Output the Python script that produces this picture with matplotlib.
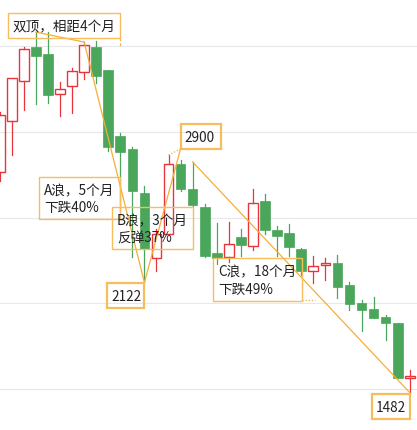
import numpy as np
import matplotlib
matplotlib.use("Agg")
import matplotlib.pyplot as plt
from matplotlib.patches import Rectangle

plt.rcParams['font.family'] = ['Noto Sans CJK SC', 'DejaVu Sans']

# monthly candles, oldest first
opens  = [2765, 3059, 3292, 3491, 3451, 3216, 3265, 3344, 3494, 3355,
          2974, 2898, 2642, 2262, 2404, 2809, 2666, 2559, 2294, 2269,
          2388, 2336, 2598, 2427, 2410, 2317, 2191, 2222, 2235, 2108,
          2003, 1968, 1922, 1887, 1567]
highs  = [3113, 3311, 3490, 3578, 3576, 3286, 3371, 3520, 3526, 3355,
          2990, 2908, 2685, 2433, 2863, 2834, 2823, 2579, 2466, 2472,
          2433, 2666, 2637, 2449, 2461, 2321, 2278, 2265, 2282, 2127,
          2020, 2036, 1933, 1887, 1613]
lows   = [2712, 2866, 3125, 3158, 3164, 3088, 3106, 3305, 3282, 2885,
          2538, 2270, 2122, 2189, 2398, 2654, 2567, 2270, 2230, 2240,
          2274, 2311, 2404, 2278, 2274, 2166, 2119, 2138, 2030, 1960,
          1840, 1917, 1790, 1569, 1482]
closes = [3096, 3309, 3478, 3441, 3214, 3245, 3354, 3503, 3324, 2908,
          2883, 2656, 2317, 2404, 2809, 2666, 2573, 2278, 2263, 2344,
          2340, 2583, 2429, 2394, 2327, 2191, 2216, 2235, 2098, 1999,
          1964, 1917, 1888, 1569, 1580]

grid_levels = [1500, 2000, 2500, 3000, 3500]

# wave points (candle index)
top_1, top_2 = 3, 7
a_end = 12
b_end = (15, 2900)
c_start, c_end = 16, 34

double_top_text = "双顶，相距4个月"
wave_texts = ["A浪，5个月\n下跌40%", "B浪，3个月\n反弹37%", "C浪，18个月\n下跌49%"]
price_texts = ["2122", "2900", "1482"]

W, H = 417, 431
RED = '#e8343c'
GREEN = '#4aa65a'
ORANGE = '#f5ae3a'
BOX = '#f7bd5c'
TXT = '#222222'

fig = plt.figure(figsize=(W / 100, H / 100), dpi=100)
ax = fig.add_axes([0, 0, 1, 1])
ax.set_xlim(0.025, 34.6)
ax.set_ylim(1264.5, 3770.4)
ax.axis('off')


def to_data(px, py):
    # pixel (top-left origin) -> data coords
    return ax.transData.inverted().transform((px, H - py))


def to_pix(x, y):
    dx, dy = ax.transData.transform((x, y))
    return dx, H - dy


def draw_box(px, py, w, h, color=BOX, lw=1.0):
    x0, y1 = to_data(px, py)
    x1, y0 = to_data(px + w, py + h)
    ax.add_patch(Rectangle((x0, y0), x1 - x0, y1 - y0, fill=False,
                           ec=color, lw=lw, zorder=4))


def draw_text(px, py, s):
    x, y = to_data(px, py)
    ax.text(x, y, s, ha='left', va='center', fontsize=9.8, color=TXT,
            linespacing=1.3, zorder=5)


# grid
for g in grid_levels:
    ax.axhline(g, color='#e8e8e8', lw=0.8, zorder=0)

# candles
bw = 0.8
for i in range(len(opens)):
    o, h, l, c = opens[i], highs[i], lows[i], closes[i]
    lo_b, hi_b = min(o, c), max(o, c)
    if c >= o:
        ax.plot([i, i], [hi_b, h], color=RED, lw=0.9, zorder=2)
        ax.plot([i, i], [l, lo_b], color=RED, lw=0.9, zorder=2)
        ax.add_patch(Rectangle((i - bw / 2, lo_b), bw, hi_b - lo_b,
                               fill=False, ec=RED, lw=1.0, zorder=2))
    else:
        ax.plot([i, i], [l, h], color=GREEN, lw=0.9, zorder=2)
        ax.add_patch(Rectangle((i - bw / 2, lo_b), bw, hi_b - lo_b,
                               fc=GREEN, ec=GREEN, lw=0.5, zorder=2))

# wave lines
ax.plot([top_1, top_2], [highs[top_1], highs[top_2]], color=ORANGE, lw=0.9, zorder=3)
ax.plot([top_2, a_end], [highs[top_2], lows[a_end]], color=ORANGE, lw=0.9, zorder=3)
ax.plot([a_end, b_end[0]], [lows[a_end], b_end[1]], color=ORANGE, lw=0.9, zorder=3)
ax.plot([b_end[0], 14], [b_end[1], highs[14]], color=ORANGE, lw=0.9, ls=(0, (1, 1.5)), zorder=3)
ax.plot([c_start, c_end], [highs[c_start], lows[c_end]], color=ORANGE, lw=0.9, zorder=3)

# text labels
draw_box(8, 14, 112, 25)
draw_text(13, 27, double_top_text)
x0, y0 = to_data(120, 39)
x1, y1 = to_data(120, 47)
ax.plot([x0, x1], [y0, y1], color=ORANGE, lw=0.9, ls=(0, (2, 2)), zorder=3)

label_boxes = [(39, 178, 81, 42), (112, 208, 81, 42), (213, 259, 89, 43)]
for (bx, by, bwid, bh), s in zip(label_boxes, wave_texts):
    draw_box(bx, by, bwid, bh)
    draw_text(bx + 5, by + bh / 2 + 0.5, s)

x0, y0 = to_data(302, 301)
x1, y1 = to_data(315, 301)
ax.plot([x0, x1], [y0, y1], color=ORANGE, lw=0.9, ls=(0, (1, 1.5)), zorder=3)

# price marks anchored to wave points
ax_, ay_ = to_pix(a_end, lows[a_end])
draw_box(ax_ - 37, ay_, 37, 25, lw=1.6)
draw_text(ax_ - 33, ay_ + 13, price_texts[0])

bx_, by_ = to_pix(*b_end)
draw_box(bx_, by_ - 25, 40, 25, lw=1.6)
draw_text(bx_ + 4, by_ - 12, price_texts[1])

cx_, cy_ = to_pix(c_end, lows[c_end])
draw_box(cx_ - 38, cy_ + 1.5, 38, 25, lw=1.6)
draw_text(cx_ - 34, cy_ + 14.5, price_texts[2])

fig.savefig("out.png", dpi=100)
